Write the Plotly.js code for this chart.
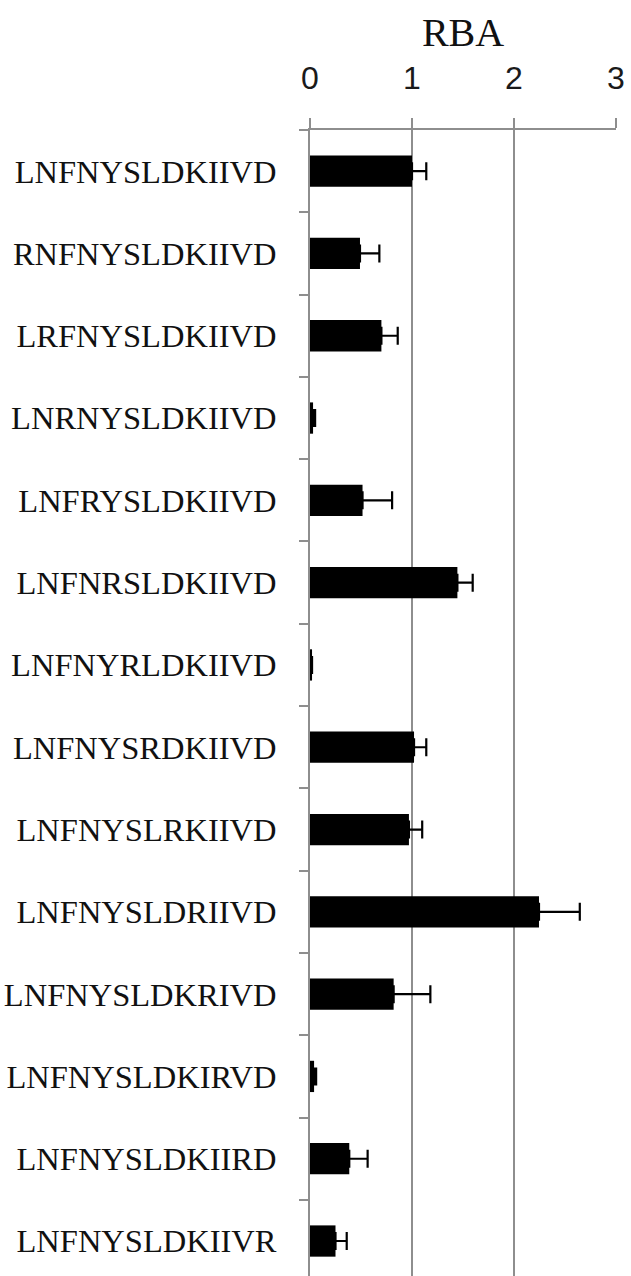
<!DOCTYPE html>
<html>
<head>
<meta charset="utf-8">
<script src="https://cdn.plot.ly/plotly-3.0.1.min.js"></script>
<style>html,body{margin:0;padding:0;background:#fff;overflow:hidden;}</style>
</head>
<body>
<div id="chart" style="width:631px;height:1276px;"></div>
<script>
const peptides = [
  "LNFNYSLDKIIVD","RNFNYSLDKIIVD","LRFNYSLDKIIVD","LNRNYSLDKIIVD",
  "LNFRYSLDKIIVD","LNFNRSLDKIIVD","LNFNYRLDKIIVD","LNFNYSRDKIIVD",
  "LNFNYSLRKIIVD","LNFNYSLDRIIVD","LNFNYSLDKRIVD","LNFNYSLDKIRVD",
  "LNFNYSLDKIIRD","LNFNYSLDKIIVR"
];
const rba = [1.00, 0.49, 0.70, 0.03, 0.515, 1.445, 0.02, 1.02, 0.97, 2.245, 0.82, 0.04, 0.385, 0.25];
const rbaErr = [0.14, 0.19, 0.16, 0.02, 0.29, 0.15, 0.0, 0.12, 0.13, 0.40, 0.36, 0.02, 0.18, 0.11];
const xTicks = [0, 1, 2, 3];
const zeros = rba.map(() => 0);

const gray = "#8e8e8e";
const trace = {
  type: "bar",
  orientation: "h",
  y: peptides,
  x: rba,
  width: 0.38,
  marker: {color: "#000000", line: {width: 0}},
  error_x: {
    type: "data", symmetric: false, array: rbaErr, arrayminus: zeros,
    color: "#000000", thickness: 2.2, width: 9, visible: true
  },
  hoverinfo: "x+y"
};

const layout = {
  width: 631, height: 1276,
  margin: {l: 310, r: 15, t: 130, b: 0, pad: 0},
  paper_bgcolor: "#ffffff", plot_bgcolor: "#ffffff",
  showlegend: false,
  title: {
    text: "RBA",
    font: {family: "Liberation Serif, Times New Roman, serif", size: 40, color: "#111"},
    xref: "paper", x: 0.5, xanchor: "center",
    yref: "container", y: 1 - 32/1276, yanchor: "middle"
  },
  xaxis: {
    side: "top", range: [0, 3], tickvals: xTicks, ticktext: xTicks.map(String),
    ticks: "outside", ticklen: 10, tickwidth: 2, tickcolor: gray,
    showgrid: true, gridcolor: gray, gridwidth: 2,
    showline: true, linecolor: gray, linewidth: 2,
    zeroline: false, fixedrange: true,
    ticklabelstandoff: 16,
    tickfont: {family: "Liberation Sans, Arial, sans-serif", size: 32, color: "#1a1a1a"}
  },
  yaxis: {
    type: "category", range: [13.425, -0.5],
    categoryorder: "array", categoryarray: peptides,
    ticks: "outside", tickson: "boundaries", ticklen: 9, tickwidth: 2, tickcolor: gray,
    showline: true, linecolor: gray, linewidth: 2,
    showgrid: false, zeroline: false, fixedrange: true,
    ticklabelstandoff: 25,
    tickfont: {family: "Liberation Serif, Times New Roman, serif", size: 32.5, color: "#111"}
  }
};

Plotly.newPlot("chart", [trace], layout, {displayModeBar: false, staticPlot: true});
</script>
</body>
</html>
